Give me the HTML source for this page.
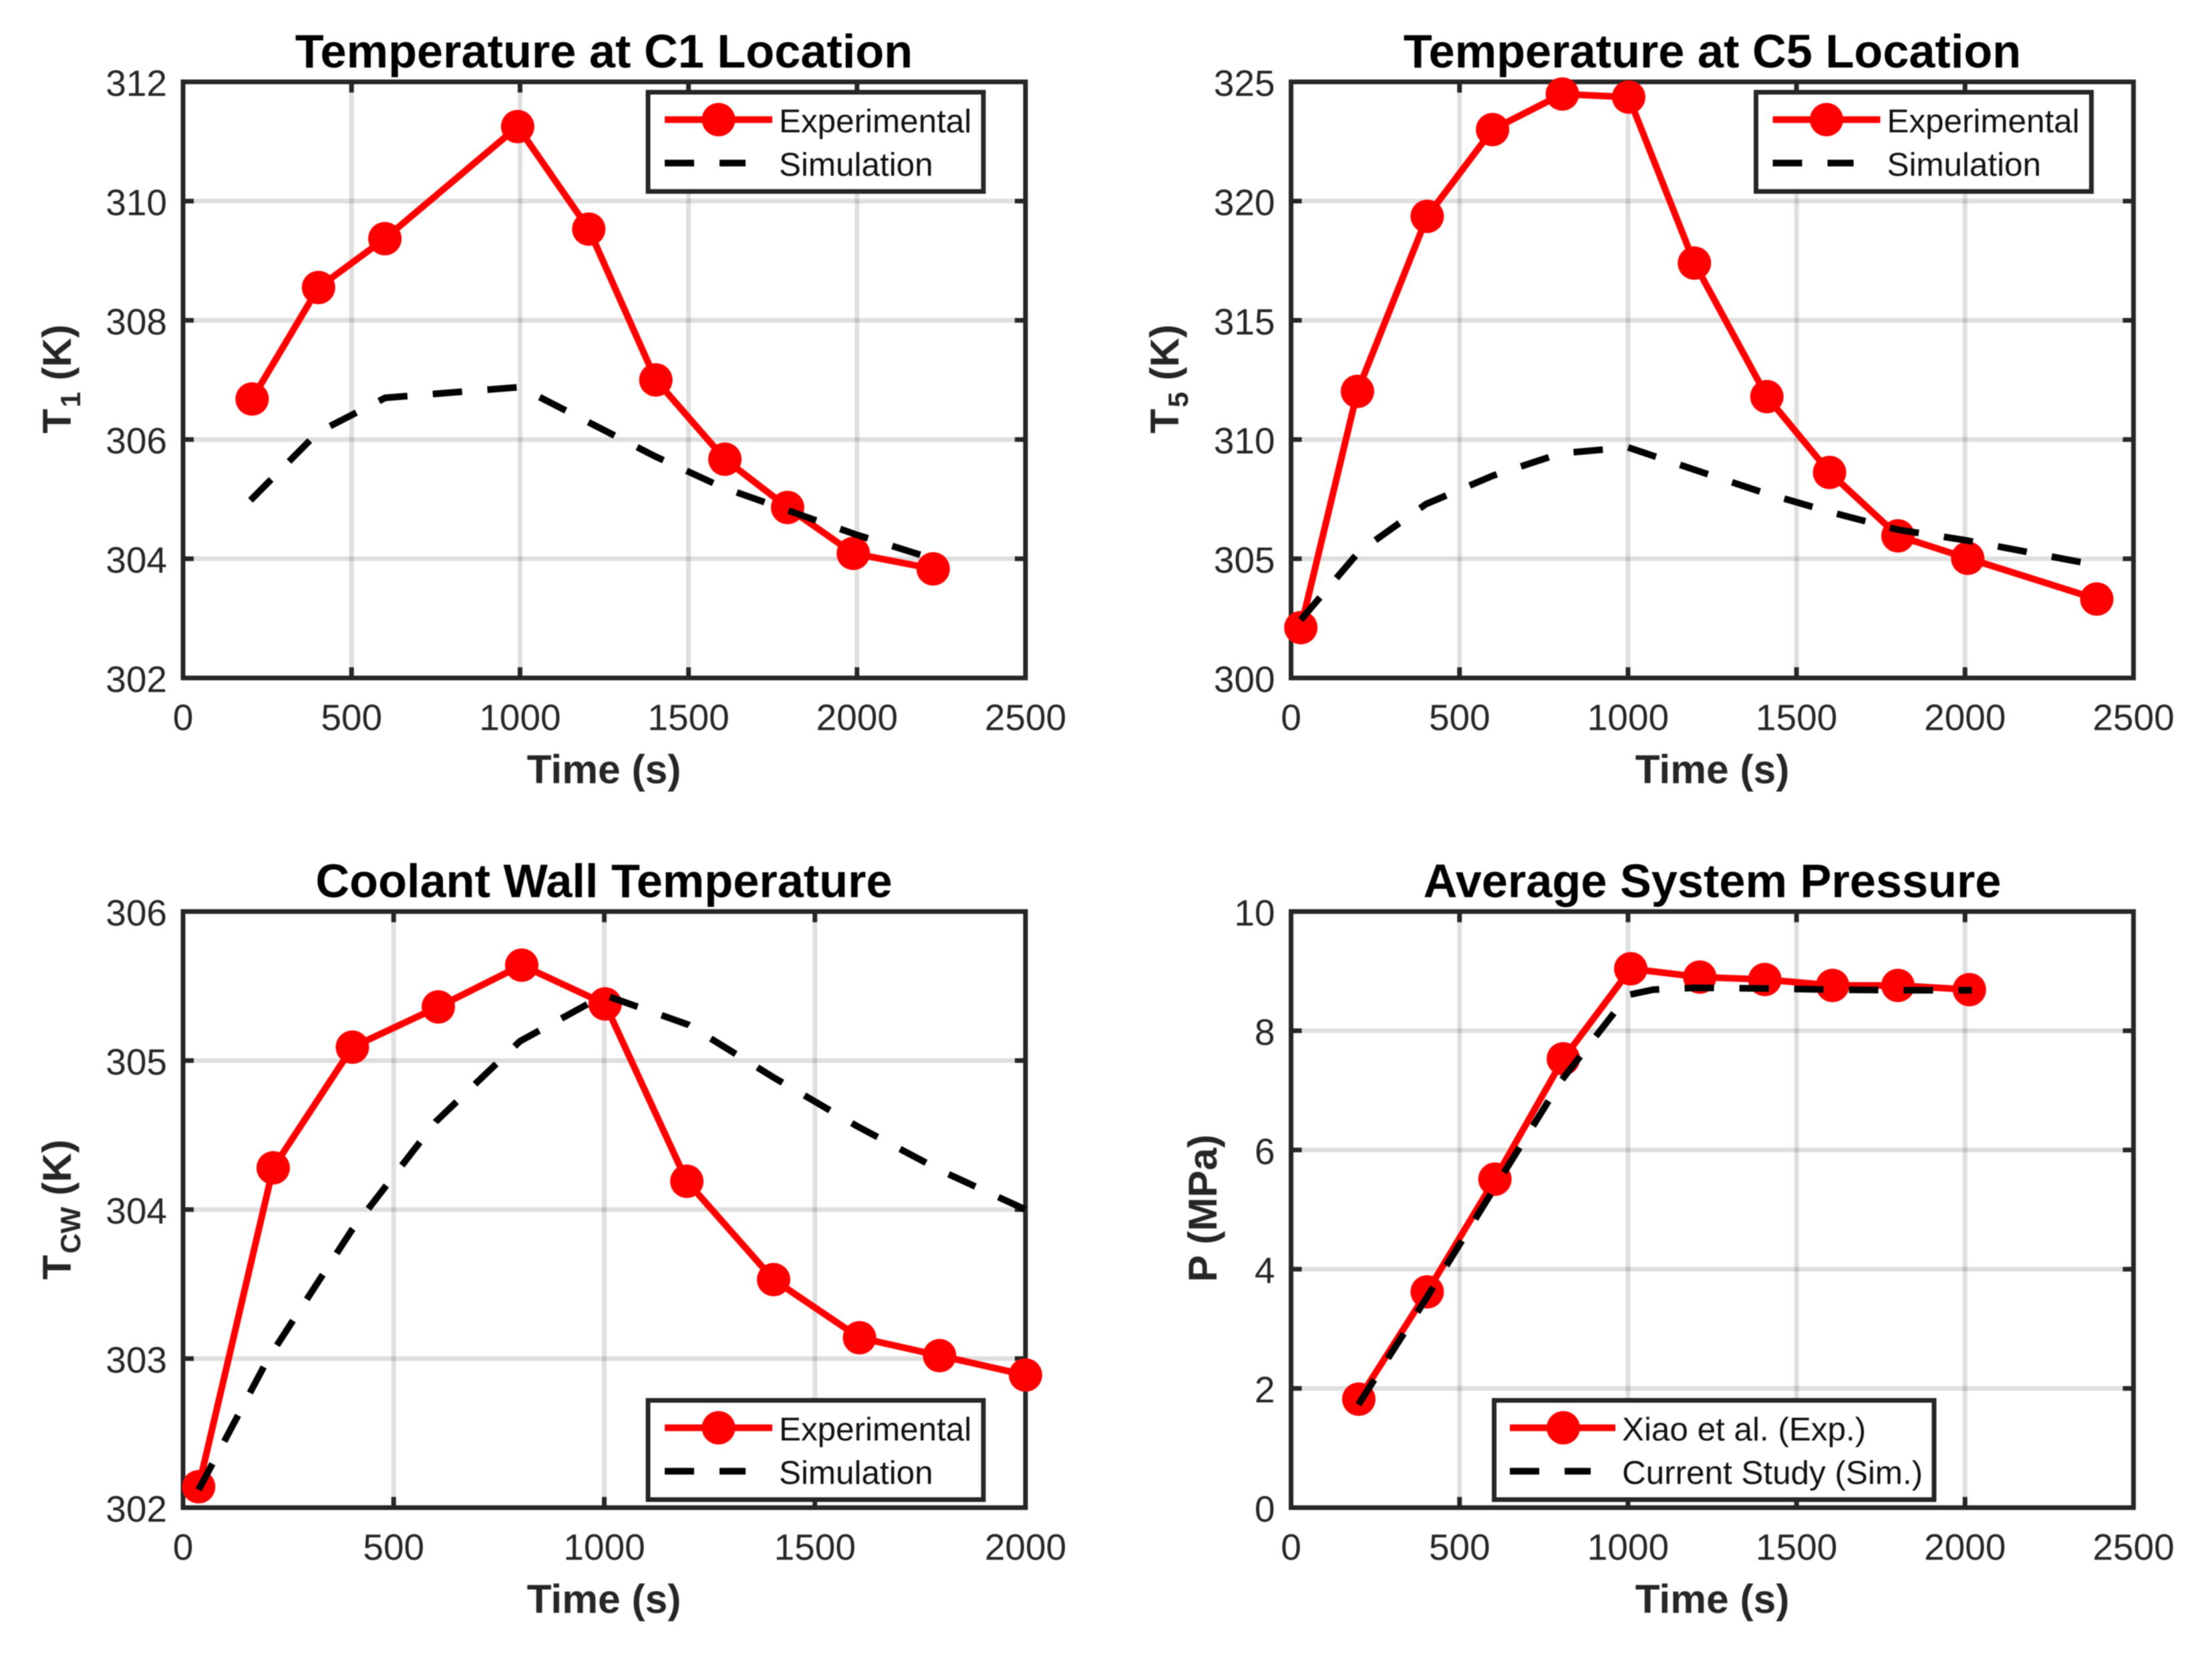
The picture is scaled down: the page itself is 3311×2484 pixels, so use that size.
<!DOCTYPE html>
<html lang="en">
<head>
<meta charset="utf-8">
<title>Temperature and pressure validation charts</title>
<style>
  html, body { margin: 0; padding: 0; background: #fff; }
  svg { display: block; filter: blur(0.8px); }
  text { font-family: "Liberation Sans", Arial, sans-serif; fill: #262626; }
  .title { font-size: 70.3px; font-weight: bold; fill: #000; text-anchor: middle; }
  .axis-label { font-size: 60.5px; font-weight: bold; text-anchor: middle; }
  .sub { font-size: 42px; font-weight: bold; }
  .tick { font-size: 55px; }
  .legend-text { font-size: 49.4px; fill: #111; }
</style>
</head>
<body>
<svg xmlns="http://www.w3.org/2000/svg" width="3311" height="2484" viewBox="0 0 3311 2484">
  <rect x="0" y="0" width="3311" height="2484" fill="#fff"/>

  <g>
    <text class="title" x="904" y="101">Temperature at C1 Location</text>
    <g id="plot-c1"></g>
    <text class="axis-label" x="904" y="1172">Time (s)</text>
    <text class="axis-label" transform="translate(106,567) rotate(-90)">T<tspan class="sub" dx="2" dy="14">1</tspan><tspan dy="-14"> (K)</tspan></text>
    <g transform="translate(0,0)">
      <rect x="970" y="138" width="502" height="148.5" fill="#fff" stroke="#262626" stroke-width="7"/>
      <line x1="995" y1="179" x2="1156" y2="179" stroke="#ff0000" stroke-width="10"/>
      <circle cx="1075.5" cy="179" r="25" fill="#ff0000"/>
      <text class="legend-text" x="1166" y="198">Experimental</text>
      <line x1="995" y1="244" x2="1116" y2="244" stroke="#000" stroke-width="10" stroke-dasharray="44 38"/>
      <text class="legend-text" x="1166" y="263">Simulation</text>
    </g>
  </g>

  <g>
    <text class="title" x="2563" y="101">Temperature at C5 Location</text>
    <g id="plot-c5"></g>
    <text class="axis-label" x="2563" y="1172">Time (s)</text>
    <text class="axis-label" transform="translate(1764,567) rotate(-90)">T<tspan class="sub" dx="2" dy="14">5</tspan><tspan dy="-14"> (K)</tspan></text>
    <g transform="translate(1658.5,0)">
      <rect x="970" y="138" width="502" height="148.5" fill="#fff" stroke="#262626" stroke-width="7"/>
      <line x1="995" y1="179" x2="1156" y2="179" stroke="#ff0000" stroke-width="10"/>
      <circle cx="1075.5" cy="179" r="25" fill="#ff0000"/>
      <text class="legend-text" x="1166" y="198">Experimental</text>
      <line x1="995" y1="244" x2="1116" y2="244" stroke="#000" stroke-width="10" stroke-dasharray="44 38"/>
      <text class="legend-text" x="1166" y="263">Simulation</text>
    </g>
  </g>

  <g>
    <text class="title" x="904" y="1342.5">Coolant Wall Temperature</text>
    <g id="plot-cw"></g>
    <text class="axis-label" x="904" y="2413.5">Time (s)</text>
    <text class="axis-label" transform="translate(106,1810) rotate(-90)">T<tspan class="sub" dx="2" dy="14">CW</tspan><tspan dy="-14"> (K)</tspan></text>
    <g transform="translate(0,1957.5)">
      <rect x="970" y="138" width="502" height="148.5" fill="#fff" stroke="#262626" stroke-width="7"/>
      <line x1="995" y1="179" x2="1156" y2="179" stroke="#ff0000" stroke-width="10"/>
      <circle cx="1075.5" cy="179" r="25" fill="#ff0000"/>
      <text class="legend-text" x="1166" y="198">Experimental</text>
      <line x1="995" y1="244" x2="1116" y2="244" stroke="#000" stroke-width="10" stroke-dasharray="44 38"/>
      <text class="legend-text" x="1166" y="263">Simulation</text>
    </g>
  </g>

  <g>
    <text class="title" x="2563" y="1342.5">Average System Pressure</text>
    <g id="plot-p"></g>
    <text class="axis-label" x="2563" y="2413.5">Time (s)</text>
    <text class="axis-label" transform="translate(1821,1808) rotate(-90)">P (MPa)</text>
    <g transform="translate(0,1957.5)">
      <rect x="2236.5" y="138" width="658.5" height="148.5" fill="#fff" stroke="#262626" stroke-width="7"/>
      <line x1="2260" y1="179" x2="2418" y2="179" stroke="#ff0000" stroke-width="10"/>
      <circle cx="2340" cy="179" r="25" fill="#ff0000"/>
      <text class="legend-text" x="2428" y="198">Xiao et al. (Exp.)</text>
      <line x1="2260" y1="244" x2="2381" y2="244" stroke="#000" stroke-width="10" stroke-dasharray="44 38"/>
      <text class="legend-text" x="2428" y="263">Current Study (Sim.)</text>
    </g>
  </g>
</svg>

<script>
// ---- Tick labels ----
const xTicksTo2500 = [0, 500, 1000, 1500, 2000, 2500];
const xTicksTo2000 = [0, 500, 1000, 1500, 2000];
const yTicksC1 = [302, 304, 306, 308, 310, 312];
const yTicksC5 = [300, 305, 310, 315, 320, 325];
const yTicksCW = [302, 303, 304, 305, 306];
const yTicksP = [0, 2, 4, 6, 8, 10];

// ---- C1 temperature ----
const c1ExpTime = [205, 402, 599, 993, 1204, 1403, 1608, 1794, 1989, 2226];
const c1ExpTemp = [306.68, 308.55, 309.37, 311.25, 309.53, 307.0, 305.67, 304.86, 304.09, 303.83];
const c1SimTime = [200, 400, 600, 1000, 1200, 1400, 1600, 1800, 2000, 2225];
const c1SimTemp = [304.98, 306.12, 306.7, 306.88, 306.3, 305.72, 305.2, 304.8, 304.4, 304.0];

// ---- C5 temperature ----
const c5ExpTime = [29, 197, 404, 598, 805, 1002, 1197, 1412, 1598, 1801, 2008, 2391];
const c5ExpTemp = [302.11, 312.02, 319.36, 323.0, 324.49, 324.36, 317.4, 311.8, 308.62, 305.96, 305.02, 303.31];
const c5SimTime = [29, 200, 400, 600, 800, 1000, 1200, 1400, 1600, 1800, 2000, 2350];
const c5SimTemp = [302.44, 305.27, 307.29, 308.49, 309.42, 309.67, 308.72, 307.78, 306.96, 306.22, 305.78, 304.84];

// ---- Coolant wall temperature ----
const cwExpTime = [37, 214, 402, 606, 804, 1002, 1196, 1402, 1606, 1796, 2000];
const cwExpTemp = [302.14, 304.28, 305.09, 305.36, 305.64, 305.38, 304.19, 303.53, 303.14, 303.02, 302.89];
const cwSimTime = [37, 200, 400, 600, 800, 1000, 1200, 1400, 1600, 1800, 2000];
const cwSimTemp = [302.12, 302.99, 303.86, 304.59, 305.13, 305.44, 305.24, 304.89, 304.56, 304.26, 304.0];

// ---- Average system pressure ----
const pExpTime = [201, 404, 605, 808, 1008, 1213, 1406, 1607, 1801, 2013];
const pExpValue = [1.82, 3.62, 5.51, 7.53, 9.04, 8.9, 8.86, 8.76, 8.76, 8.69];
const pSimTime = [200, 400, 600, 800, 1000, 1075, 1200, 1400, 1600, 1800, 2020];
const pSimValue = [1.73, 3.5, 5.33, 7.15, 8.6, 8.69, 8.72, 8.71, 8.69, 8.68, 8.68];

const SVG_NS = 'http://www.w3.org/2000/svg';

function make(parent, tag, attrs, content) {
  const node = document.createElementNS(SVG_NS, tag);
  for (const key in attrs) node.setAttribute(key, attrs[key]);
  if (content !== undefined) node.textContent = content;
  parent.appendChild(node);
  return node;
}

function drawPanel(id, box, xDomain, yDomain, xTicks, yTicks, expX, expY, simX, simY) {
  const root = document.getElementById(id);
  const xScale = v => box.left + (v - xDomain[0]) / (xDomain[1] - xDomain[0]) * (box.right - box.left);
  const yScale = v => box.bottom - (v - yDomain[0]) / (yDomain[1] - yDomain[0]) * (box.bottom - box.top);
  const tickLen = 16;

  xTicks.forEach(t => {
    const x = xScale(t);
    if (t !== xDomain[0] && t !== xDomain[1]) {
      const grid = make(root, 'line', { x1: x, y1: box.top, x2: x, y2: box.bottom, stroke: 'rgba(38,38,38,0.15)', 'stroke-width': 7 });
      
      
      const tickBottom = make(root, 'line', { x1: x, y1: box.bottom, x2: x, y2: box.bottom - tickLen, stroke: '#262626', 'stroke-width': 7 });
      
      
      const tickTop = make(root, 'line', { x1: x, y1: box.top, x2: x, y2: box.top + tickLen, stroke: '#262626', 'stroke-width': 7 });
      
      
    }
    const label = make(root, 'text', { class: 'tick', x: x, y: box.bottom + 78, 'text-anchor': 'middle' }, String(t));
    
    
  });

  yTicks.forEach(t => {
    const y = yScale(t);
    if (t !== yDomain[0] && t !== yDomain[1]) {
      const grid = make(root, 'line', { x1: box.left, y1: y, x2: box.right, y2: y, stroke: 'rgba(38,38,38,0.15)', 'stroke-width': 7 });
      
      
      const tickLeft = make(root, 'line', { x1: box.left, y1: y, x2: box.left + tickLen, y2: y, stroke: '#262626', 'stroke-width': 7 });
      
      
      const tickRight = make(root, 'line', { x1: box.right, y1: y, x2: box.right - tickLen, y2: y, stroke: '#262626', 'stroke-width': 7 });
      
      
    }
    const label = make(root, 'text', { class: 'tick', x: box.left - 24, y: y + 21, 'text-anchor': 'end' }, String(t));
    
    
  });

  const frame = make(root, 'rect', { x: box.left, y: box.top, width: box.right - box.left, height: box.bottom - box.top, fill: 'none', stroke: '#262626', 'stroke-width': 7 });
  
  

  const expPoints = expX.map((v, i) => xScale(v) + ',' + yScale(expY[i])).join(' ');
  const expLine = make(root, 'polyline', { points: expPoints, fill: 'none', stroke: '#ff0000', 'stroke-width': 10, 'stroke-linejoin': 'round' });
  
  

  expX.forEach((v, i) => {
    const dot = make(root, 'circle', { cx: xScale(v), cy: yScale(expY[i]), r: 25, fill: '#ff0000' });
    
    
  });

  const simPoints = simX.map((v, i) => xScale(v) + ',' + yScale(simY[i])).join(' ');
  const simLine = make(root, 'polyline', { points: simPoints, fill: 'none', stroke: '#000', 'stroke-width': 10, 'stroke-dasharray': '44 38', 'stroke-linejoin': 'round' });
  
  
}

const boxTL = { left: 274, right: 1535, top: 122.5, bottom: 1014.5 };
const boxTR = { left: 1932.5, right: 3193.5, top: 122.5, bottom: 1014.5 };
const boxBL = { left: 274, right: 1535, top: 1364, bottom: 2256 };
const boxBR = { left: 1932.5, right: 3193.5, top: 1364, bottom: 2256 };

drawPanel('plot-c1', boxTL, [0, 2500], [302, 312], xTicksTo2500, yTicksC1, c1ExpTime, c1ExpTemp, c1SimTime, c1SimTemp);
drawPanel('plot-c5', boxTR, [0, 2500], [300, 325], xTicksTo2500, yTicksC5, c5ExpTime, c5ExpTemp, c5SimTime, c5SimTemp);
drawPanel('plot-cw', boxBL, [0, 2000], [302, 306], xTicksTo2000, yTicksCW, cwExpTime, cwExpTemp, cwSimTime, cwSimTemp);
drawPanel('plot-p', boxBR, [0, 2500], [0, 10], xTicksTo2500, yTicksP, pExpTime, pExpValue, pSimTime, pSimValue);
</script>
</body>
</html>
